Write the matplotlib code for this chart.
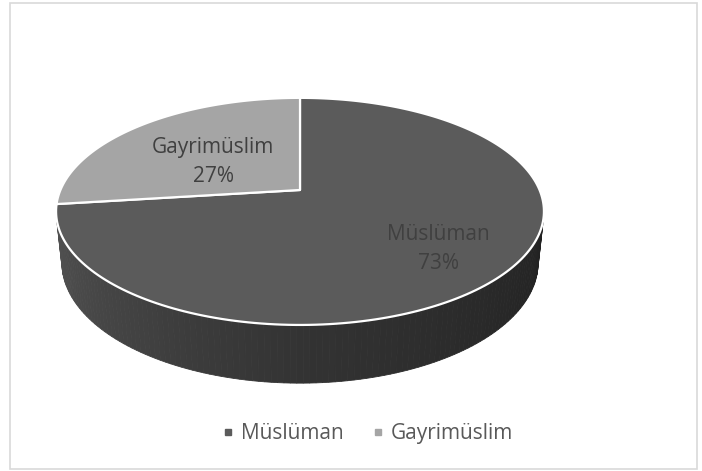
import numpy as np
import matplotlib
matplotlib.use('Agg')
import matplotlib.pyplot as plt
from matplotlib.patches import Polygon, Rectangle
from matplotlib.lines import Line2D

# Data
labels = ['Müslüman', 'Gayrimüslim']
values = [73, 27]
top_colors = ['#5b5b5b', '#a5a5a5']
legend_colors = ['#5b5b5b', '#a5a5a5']
label_colors = ['#404040', '#404040']

plt.rcParams['font.family'] = ['Open Sans', 'DejaVu Sans']

# 3D pie geometry (pixels), perspective camera
cx, cy = 300, 190
phi = np.radians(27.2)      # elevation
dist = 4.717                # camera distance in radii
focal = 1130.0              # px
depth = 0.243               # cylinder height in radii


def proj(theta, r=1.0, y=0.0):
    t = np.radians(theta)
    X = r * np.cos(t)
    Z = r * np.sin(t)
    d = dist + Z * np.cos(phi) - y * np.sin(phi)
    v = y * np.cos(phi) + Z * np.sin(phi)
    return cx + focal * X / d, cy - focal * v / d


fig = plt.figure(figsize=(7.02, 4.71), dpi=100)
ax = fig.add_axes([0, 0, 1, 1])
ax.set_xlim(0, 702)
ax.set_ylim(471, 0)
ax.axis('off')

# chart border
ax.add_patch(Rectangle((9.5, 2.5), 687, 466, fill=False, edgecolor='#d9d9d9', lw=1.2))

# slice angles: start at 12 o'clock, Gayrimüslim counterclockwise first
total = sum(values)
spans = [v / total * 360 for v in values]
starts = {}
a = 90.0
for i in [1, 0]:
    starts[i] = (a, a + spans[i])
    a += spans[i]

# visible side range of the cylinder
s0 = -1.0 / (dist * np.cos(phi))
vis_lo = 180 - np.degrees(np.arcsin(s0))
vis_hi = 360 + np.degrees(np.arcsin(s0))

# side walls
for i in [1, 0]:
    a1, a2 = starts[i]
    for off in [0, 360, -360]:
        lo = max(a1 + off, vis_lo)
        hi = min(a2 + off, vis_hi)
        if hi <= lo:
            continue
        edges = np.linspace(lo, hi, 120)
        for k in range(len(edges) - 1):
            t0, t1 = edges[k], edges[k + 1]
            tm = (t0 + t1) / 2
            g = np.interp(tm, [vis_lo, 270, vis_hi], [0x52, 0x33, 0x22]) / 255
            base = 0.9 if i == 1 else 1.0
            col = (g * base, g * base, g * base)
            pts = [proj(t0), proj(t1), proj(t1, y=-depth), proj(t0, y=-depth)]
            ax.add_patch(Polygon(pts, closed=True, facecolor=col, edgecolor=col, lw=0.6))

# top faces
for i in [0, 1]:
    a1, a2 = starts[i]
    th = np.linspace(a1, a2, 200)
    rim = [proj(t) for t in th]
    pts = [(cx, cy)] + rim
    ax.add_patch(Polygon(pts, closed=True, facecolor=top_colors[i], edgecolor='white',
                         lw=1.6, joinstyle='round'))

# data labels (radius + small pixel nudge, like Excel's best fit)
label_r = [0.74, 0.49]
label_nudge = [(-8, 0), (-4, 5)]
for i in [0, 1]:
    a1, a2 = starts[i]
    mid = (a1 + a2) / 2
    x, y = proj(mid, r=label_r[i])
    dx, dy = label_nudge[i]
    ax.text(x + dx, y + dy, f'{labels[i]}\n{values[i]}%', ha='center', va='center',
            fontsize=15, color=label_colors[i], linespacing=1.5)

# legend
handles = [Line2D([], [], marker='s', linestyle='none', markersize=5,
                  markerfacecolor=c, markeredgecolor=c) for c in legend_colors]
fig.legend(handles, labels, loc='center', bbox_to_anchor=(0.522, 0.080), ncol=2,
           frameon=False, fontsize=15, labelcolor='#595959', handletextpad=0.25,
           columnspacing=1.2, handlelength=0.8)

fig.savefig('out.png', dpi=100)
